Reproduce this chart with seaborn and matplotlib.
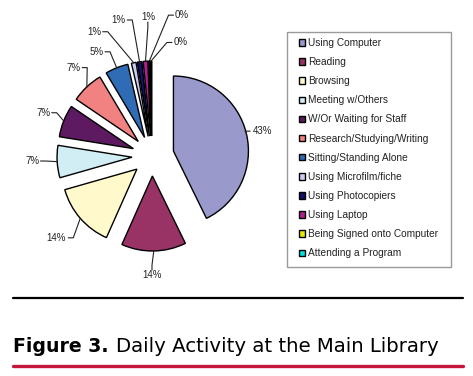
import numpy as np
import matplotlib
matplotlib.use("Agg")
import matplotlib.pyplot as plt
import seaborn as sns
from matplotlib.patches import Rectangle
from matplotlib.lines import Line2D

# ---- data ----
categories = ["Using Computer", "Reading", "Browsing", "Meeting w/Others",
              "W/Or Waiting for Staff", "Research/Studying/Writing",
              "Sitting/Standing Alone", "Using Microfilm/fiche",
              "Using Photocopiers", "Using Laptop",
              "Being Signed onto Computer", "Attending a Program"]
shares = [43, 14, 14, 7, 7, 7, 5, 1, 1, 1, 0.3, 0.3]
colors = ["#9999CC", "#993366", "#FFF9CC", "#D2EEF5", "#5E1A60", "#F28282",
          "#2F6CB5", "#CCCCF2", "#101068", "#B0208F", "#E8E800", "#00E0E0"]
caption_bold = "Figure 3."
caption_rest = "Daily Activity at the Main Library"

# ---- layout (image pixel space, y measured from top) ----
W, H = 473, 376
CX, CY = 152, 156          # pie centre
R = 75                     # radius in px
explode_px = [22] + [20] * 11   # absolute offsets in px
# label placement: (angle deg, distance px from centre, stub type)
label_layout = [(12.7, 113, "h"), (-90, 119, "v"), (-139.5, 126, "h"),
                (-177.6, 120, "h"), (158.3, 117, "h"), (131.5, 118, "h"),
                (118, 118, "h"), (114.9, 137, "h"), (103.7, 140, "h"),
                (91.7, 139, "v"), (78, 144, "h"), (76, 117, "h")]

sns.set_theme(style="white")
plt.rcParams["font.family"] = ["Liberation Sans", "DejaVu Sans"]

fig = plt.figure(figsize=(W / 100, H / 100), dpi=100)
fig.patch.set_facecolor("white")
ax = fig.add_axes([0, 0, 1, 1])

def Y(y):
    return H - y

wedges, _ = ax.pie(shares, colors=colors, startangle=90, counterclock=False,
                   center=(CX, Y(CY)), radius=R, explode=explode_px,
                   wedgeprops=dict(edgecolor="black", linewidth=1.0))
ax.set_xlim(0, W)
ax.set_ylim(0, H)
ax.set_aspect("equal")
ax.axis("off")

total = sum(shares)
for w, v, (ang, dist, stub) in zip(wedges, shares, label_layout):
    lab = f"{v / total * 100:.0f}%"
    mid = np.deg2rad((w.theta1 + w.theta2) / 2)
    wc = w.center
    ax0 = wc[0] + R * np.cos(mid)
    ay0 = wc[1] + R * np.sin(mid)
    lx = CX + dist * np.cos(np.deg2rad(ang))
    ly = Y(CY) + dist * np.sin(np.deg2rad(ang))
    ax.text(lx, ly, lab, ha="center", va="center", fontsize=7,
            color="#222222")
    hw = 3.7 * len(lab) + 1
    hh = 5
    if stub == "h":
        if ax0 > lx:
            ex = lx + hw
            sx = ex + 5
        else:
            ex = lx - hw
            sx = ex - 5
        xs = [ax0, sx, ex]
        ys = [ay0, ly, ly]
    else:
        if ay0 < ly:
            ey = ly - hh
            sy = ey - 5
        else:
            ey = ly + hh
            sy = ey + 5
        xs = [ax0, lx, lx]
        ys = [ay0, sy, ey]
    ax.add_line(Line2D(xs, ys, color="#222222", lw=0.8))

# legend
ax.add_patch(Rectangle((287, Y(267)), 451 - 287, 267 - 32, fill=False,
                       edgecolor="#9a9a9a", lw=1.0))
leg = ax.legend(wedges, categories, loc="upper left",
                bbox_to_anchor=(299 / W, 1 - 38 / H), frameon=False,
                fontsize=7.3, handlelength=0.6, handleheight=0.6,
                handletextpad=0.3, labelspacing=0.9, borderpad=0,
                borderaxespad=0)
for t in leg.get_texts():
    t.set_color("#222222")

# caption rules and text
ax.add_line(Line2D([13, 463], [Y(298), Y(298)], color="black", lw=1.6))
ax.add_line(Line2D([13, 463], [Y(366), Y(366)], color="#C4163A", lw=2.4))
ax.text(13, Y(352), caption_bold, fontsize=13.6, fontweight="bold",
        family="DejaVu Sans", ha="left", va="baseline", color="black")
ax.text(116, Y(352), caption_rest, fontsize=14.2, family="DejaVu Sans",
        ha="left", va="baseline", color="black")

fig.savefig("out.png", dpi=100, facecolor="white")
